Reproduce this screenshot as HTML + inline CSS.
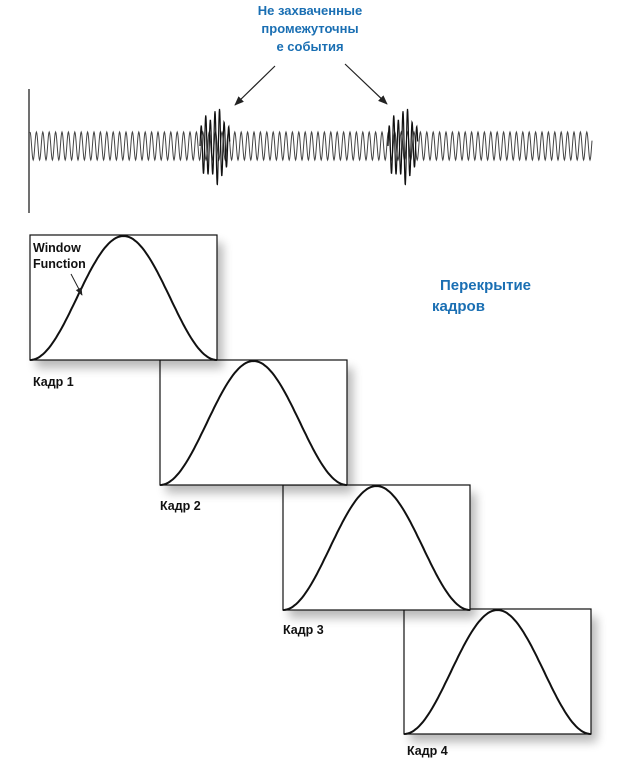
<!DOCTYPE html>
<html><head><meta charset="utf-8"><style>
html,body{margin:0;padding:0;background:#fff;width:628px;height:768px;overflow:hidden}
svg{display:block}
.b{font-family:"Liberation Sans","DejaVu Sans",sans-serif;font-weight:bold}
</style></head><body>
<svg id="s" width="628" height="768" xmlns="http://www.w3.org/2000/svg">
<defs>
<filter id="sh" x="-20%" y="-20%" width="150%" height="160%"><feGaussianBlur stdDeviation="5"/></filter>
<marker id="ah" viewBox="0 0 10 10" refX="9" refY="5" markerWidth="8" markerHeight="8" orient="auto"><path d="M0,1 L10,5 L0,9 z" fill="#222"/></marker>
</defs>
<g class="b" fill="#1a6fb3" font-size="13" text-anchor="middle">
<text x="310" y="15">Не захваченные</text>
<text x="310" y="33">промежуточны</text>
<text x="310" y="51">е события</text>
</g>
<line x1="275" y1="66" x2="235" y2="105" stroke="#222" stroke-width="1.2" marker-end="url(#ah)"/>
<line x1="345" y1="64" x2="387" y2="104" stroke="#222" stroke-width="1.2" marker-end="url(#ah)"/>
<line x1="29" y1="89" x2="29" y2="213" stroke="#222" stroke-width="1.3"/>
<path id="wave" fill="none" stroke="#444" stroke-width="1"/>
<path id="burst" fill="none" stroke="#111" stroke-width="1.2"/>
<g id="frames"></g>
<g class="b" fill="#1a6fb3" font-size="15">
<text x="440" y="290">Перекрытие</text>
<text x="432" y="311">кадров</text>
</g>
<g class="b" fill="#111" font-size="12.5">
<text x="33" y="252">Window</text>
<text x="33" y="268">Function</text>
<text x="33" y="386">Кадр 1</text>
<text x="160" y="510">Кадр 2</text>
<text x="283" y="634">Кадр 3</text>
<text x="407" y="755">Кадр 4</text>
</g>
<line x1="71" y1="274" x2="82" y2="295" stroke="#222" stroke-width="1" marker-end="url(#ah)"/>
</svg>
<script>
var P=6.4,c=146,A=14,d="";
var first=true;
for(var x=30;x<=592;x+=0.4){
  var y=c-A*Math.cos(2*Math.PI*(x-30)/P);
  d+=(first?"M":"L")+x.toFixed(1)+","+y.toFixed(1);first=false;
}
document.getElementById("wave").setAttribute("d",d);
var bd="";
[[200,230],[388,418]].forEach(function(r){
  var s=r[0],e=r[1];bd+="M"+s+","+c;
  for(var x=s;x<=e;x+=0.3){
    var t=(x-s)/(e-s);
    var env=14+26*Math.pow(Math.sin(Math.PI*t),0.6)*(0.75+0.25*Math.sin(13*t));
    var y=c-env*Math.sin(2*Math.PI*(x-s)/4.6);
    bd+="L"+x.toFixed(1)+","+y.toFixed(1);
  }
});
document.getElementById("burst").setAttribute("d",bd);
var F=[[30,235],[160,360],[283,485],[404,609]];
var g=document.getElementById("frames"),h="";
for(var i=F.length-1;i>=0;i--){
  var x0=F[i][0],y0=F[i][1],w=187,H=125;
  h+='<rect x="'+(x0+6)+'" y="'+(y0+8)+'" width="'+w+'" height="'+H+'" fill="#000" opacity="0.28" filter="url(#sh)"/>';
  h+='<rect x="'+x0+'" y="'+y0+'" width="'+w+'" height="'+H+'" fill="#fff" stroke="#111" stroke-width="1.2"/>';
  var p="";
  for(var k=0;k<=100;k++){var t=k/100;var xx=x0+t*w;var yy=y0+H-(H-1)*(0.5-0.5*Math.cos(2*Math.PI*t));p+=(k?"L":"M")+xx.toFixed(1)+","+yy.toFixed(1);}
  h+='<path d="'+p+'" fill="none" stroke="#111" stroke-width="2"/>';
}
g.innerHTML=h;
</script>
</body></html>
